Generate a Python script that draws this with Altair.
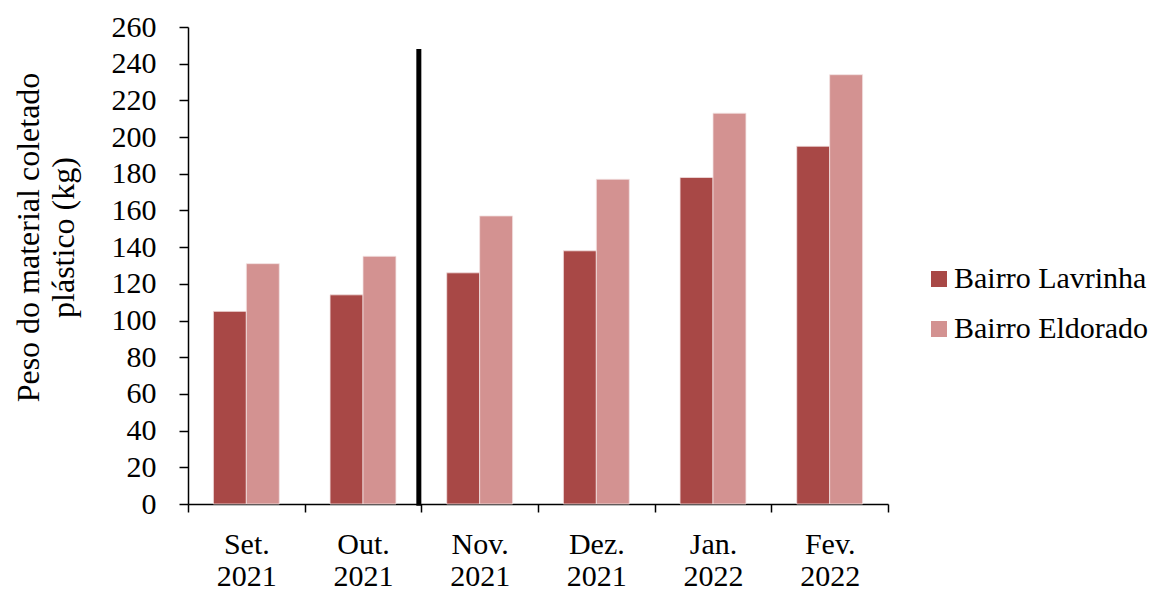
import altair as alt
import pandas as pd

months = ["Set. 2021", "Out. 2021", "Nov. 2021", "Dez. 2021", "Jan. 2022", "Fev. 2022"]
lavrinha = [105, 114, 126, 138, 178, 195]
eldorado = [131, 135, 157, 177, 213, 234]
series = ["Bairro Lavrinha", "Bairro Eldorado"]
colors = ["#A84846", "#D39291"]
y_ticks = [0, 20, 40, 60, 80, 100, 120, 140, 160, 180, 200, 220, 240, 260]

rows = []
for m, a, b in zip(months, lavrinha, eldorado):
    rows.append({"mes": m, "bairro": series[0], "peso": a})
    rows.append({"mes": m, "bairro": series[1], "peso": b})
df = pd.DataFrame(rows)

font = "Liberation Serif"

x_axis = alt.Axis(
    labelAngle=0,
    labelExpr="split(datum.label, ' ')",
    labelLineHeight=32,
    labelFontSize=30,
    labelFont=font,
    labelColor="black",
    labelPadding=17,
    labelOverlap=False,
    labelLimit=300,
    tickBand="extent",
    tickSize=8,
    tickColor="black",
    domainColor="black",
    domainWidth=1.5,
    tickWidth=1.5,
)

y_axis = alt.Axis(
    values=y_ticks,
    grid=False,
    labelFontSize=30,
    labelFont=font,
    labelColor="black",
    labelPadding=23,
    labelOverlap=False,
    labelLimit=300,
    tickSize=9,
    tickColor="black",
    tickWidth=1.5,
    domainColor="black",
    domainWidth=1.5,
    titleFont=font,
    titleFontSize=32,
    titleFontWeight="normal",
    titleColor="black",
    titleLineHeight=35,
    titleX=-143,
    titleY=210,
)
y_title = ["Peso do material coletado", "plástico (kg)"]
y_scale = alt.Scale(domain=[0, 260], nice=False)

bars = alt.Chart(df).mark_bar(stroke="#f3e2e2", strokeWidth=0.8).encode(
    x=alt.X("mes:N", sort=months, title=None,
            scale=alt.Scale(paddingInner=0, paddingOuter=0), axis=x_axis),
    xOffset=alt.XOffset(
        "bairro:N",
        sort=series,
        scale=alt.Scale(paddingInner=0, paddingOuter=0.77),
    ),
    y=alt.Y("peso:Q", scale=y_scale, title=y_title, axis=y_axis),
    color=alt.Color(
        "bairro:N",
        sort=series,
        scale=alt.Scale(domain=series, range=colors),
        legend=alt.Legend(
            title=None,
            orient="none",
            legendX=736,
            legendY=237,
            symbolType="square",
            symbolSize=256,
            symbolStrokeWidth=0,
            labelFont=font,
            labelFontSize=30,
            labelColor="black",
            labelLimit=400,
            rowPadding=20,
            labelOffset=0,
        ),
    ),
)

# divider between October and November
divider = pd.DataFrame({"mes": ["Nov. 2021"], "peso": [248], "peso_fim": [-1]})
rule = alt.Chart(divider).mark_rule(color="black", strokeWidth=5, xOffset=-2.5).encode(
    x=alt.X("mes:N", sort=months, bandPosition=0, title=None, axis=x_axis),
    y=alt.Y("peso:Q", scale=y_scale, title=y_title, axis=y_axis),
    y2="peso_fim:Q",
)

chart = (
    alt.layer(bars, rule)
    .properties(
        width=700,
        height=477,
        autosize=alt.AutoSizeParams(type="none"),
        padding={"left": 188, "top": 27, "right": 275, "bottom": 86},
        background="white",
    )
    .configure_view(stroke=None)
)

chart.save("out.html", embed_options={"renderer": "svg", "actions": False})
